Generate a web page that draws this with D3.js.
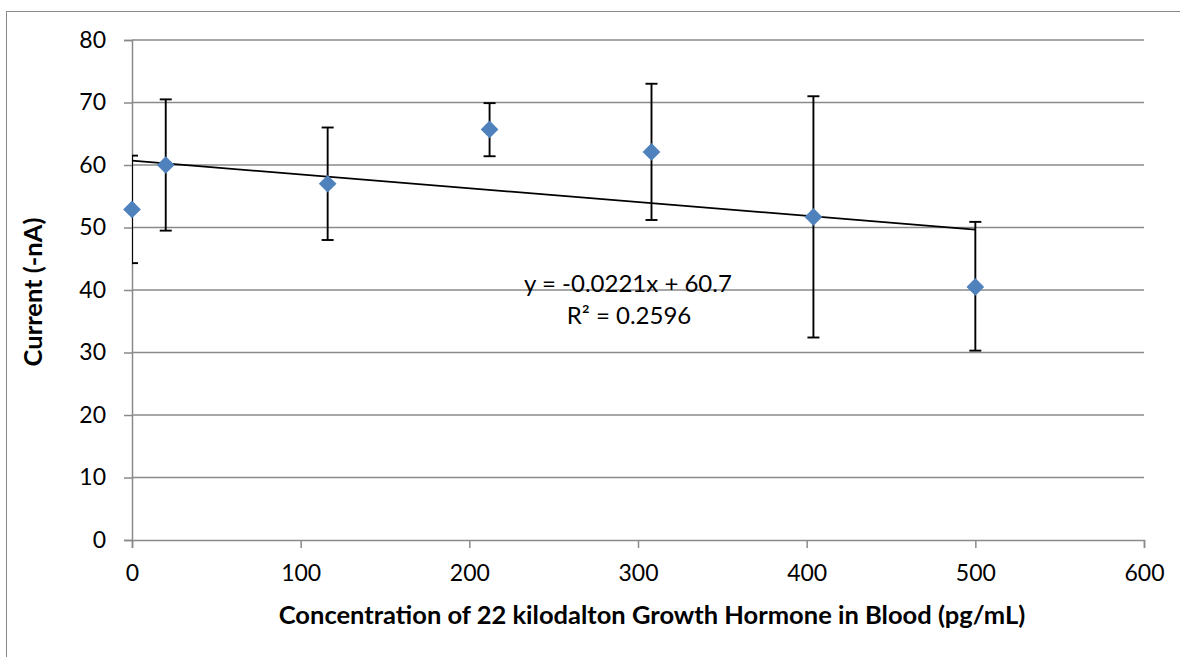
<!DOCTYPE html>
<html>
<head>
<meta charset="utf-8">
<script src="https://cdn.jsdelivr.net/npm/d3@7"></script>
<style>
  html, body { margin: 0; padding: 0; background: #ffffff; }
  svg { display: block; }
  text { font-family: "Lato", "Liberation Sans", sans-serif; fill: #000; }
</style>
</head>
<body>
<svg id="chart" width="1180" height="657"></svg>
<script>
// Concentration (pg/mL) and measured current (-nA) with error-bar limits
const concentration = [0, 20, 116, 212, 308, 404, 500];
const current       = [52.9, 60.0, 57.0, 65.7, 62.1, 51.7, 40.5];
const errHigh       = [61.5, 70.5, 66.0, 69.9, 73.0, 71.0, 50.9];
const errLow        = [44.3, 49.5, 48.0, 61.4, 51.2, 32.4, 30.3];

// Linear trendline
const slope = -0.0221;
const intercept = 60.7;
const rSquared = 0.2596;

const xTicks = [0, 100, 200, 300, 400, 500, 600];
const yTicks = [0, 10, 20, 30, 40, 50, 60, 70, 80];

const xTitle = "Concentration of 22 kilodalton Growth Hormone in Blood (pg/mL)";
const yTitle = "Current (-nA)";

const svg = d3.select("#chart");
const gridColor = "#8a8a8a";
const tickFont = 23;

// Outer chart frame
svg.append("rect")
  .attr("x", 6.5).attr("y", 11.5)
  .attr("width", 1200).attr("height", 700)
  .attr("fill", "none").attr("stroke", gridColor).attr("stroke-width", 1);

const plot = { left: 132, right: 1144, top: 40, bottom: 540 };

const x = d3.scaleLinear().domain([0, 600]).range([plot.left, plot.right]);
const y = d3.scaleLinear().domain([0, 80]).range([plot.bottom, plot.top]);

// Horizontal gridlines
svg.append("g")
  .selectAll("line")
  .data(yTicks.filter(d => d > 0))
  .join("line")
  .attr("x1", plot.left).attr("x2", plot.right)
  .attr("y1", d => y(d)).attr("y2", d => y(d))
  .attr("stroke", gridColor).attr("stroke-width", 1.5);

// Y axis
const yAxis = svg.append("g")
  .attr("transform", `translate(${plot.left},0)`)
  .call(d3.axisLeft(y).tickValues(yTicks).tickSize(8).tickPadding(18).tickFormat(d3.format("d")));
yAxis.select(".domain").attr("stroke", gridColor).attr("stroke-width", 1.5);
yAxis.selectAll(".tick line").attr("stroke", gridColor).attr("stroke-width", 1.5);
yAxis.selectAll(".tick text")
  .attr("font-size", tickFont).attr("font-family", "Lato, sans-serif").attr("fill", "#000");

// X axis
const xAxis = svg.append("g")
  .attr("transform", `translate(0,${plot.bottom})`)
  .call(d3.axisBottom(x).tickValues(xTicks).tickSize(8).tickPadding(17).tickFormat(d3.format("d")));
xAxis.select(".domain").attr("stroke", gridColor).attr("stroke-width", 1.5);
xAxis.selectAll(".tick line").attr("stroke", gridColor).attr("stroke-width", 1.5);
xAxis.selectAll(".tick text")
  .attr("font-size", tickFont).attr("font-family", "Lato, sans-serif").attr("fill", "#000");

// Clip region for error bars
svg.append("clipPath").attr("id", "plotClip")
  .append("rect")
  .attr("x", plot.left).attr("y", plot.top - 20)
  .attr("width", plot.right - plot.left).attr("height", plot.bottom - plot.top + 20);

const points = concentration.map((c, i) => ({
  c, v: current[i], hi: errHigh[i], lo: errLow[i]
}));

// Error bars
const eb = svg.append("g").attr("clip-path", "url(#plotClip)")
  .attr("stroke", "#000").attr("stroke-width", 1.9);
const capHalf = 6;
eb.selectAll("line.stem").data(points).join("line")
  .attr("class", "stem")
  .attr("x1", d => x(d.c)).attr("x2", d => x(d.c))
  .attr("y1", d => y(d.hi)).attr("y2", d => y(d.lo));
eb.selectAll("line.capHi").data(points).join("line")
  .attr("class", "capHi")
  .attr("x1", d => x(d.c) - capHalf).attr("x2", d => x(d.c) + capHalf)
  .attr("y1", d => y(d.hi)).attr("y2", d => y(d.hi));
eb.selectAll("line.capLo").data(points).join("line")
  .attr("class", "capLo")
  .attr("x1", d => x(d.c) - capHalf).attr("x2", d => x(d.c) + capHalf)
  .attr("y1", d => y(d.lo)).attr("y2", d => y(d.lo));

// Trendline over the data range
const xMin = d3.min(concentration), xMax = d3.max(concentration);
svg.append("line")
  .attr("x1", x(xMin)).attr("y1", y(slope * xMin + intercept))
  .attr("x2", x(xMax)).attr("y2", y(slope * xMax + intercept))
  .attr("stroke", "#000").attr("stroke-width", 1.8);

// Diamond markers
const diamond = d3.symbol().type(d3.symbolDiamond2).size(200);
svg.append("g").selectAll("path").data(points).join("path")
  .attr("d", diamond)
  .attr("transform", d => `translate(${x(d.c)},${y(d.v)})`)
  .attr("fill", "#4f81bd");

// Trendline equation
const eq = svg.append("g").attr("font-size", 24);
eq.append("text")
  .attr("x", 628).attr("y", 292).attr("text-anchor", "middle")
  .text(`y = ${slope}x + ${intercept}`);
eq.append("text")
  .attr("x", 629).attr("y", 324).attr("text-anchor", "middle")
  .text(`R\u00B2 = ${rSquared}`);

// Axis titles
svg.append("text")
  .attr("x", 652).attr("y", 624)
  .attr("text-anchor", "middle")
  .attr("font-weight", "bold").attr("font-size", 25.5)
  .text(xTitle);

svg.append("text")
  .attr("transform", "translate(42,292) rotate(-90)")
  .attr("text-anchor", "middle")
  .attr("font-weight", "bold").attr("font-size", 25.5)
  .text(yTitle);
</script>
</body>
</html>
